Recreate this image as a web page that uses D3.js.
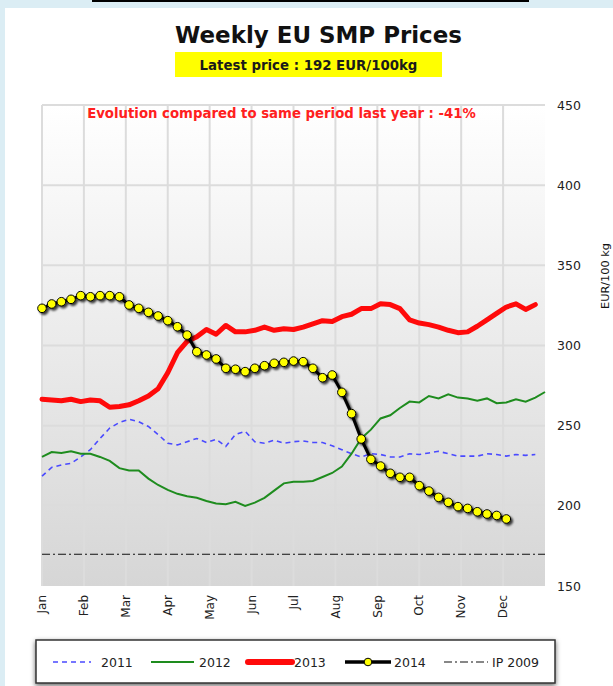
<!DOCTYPE html>
<html><head><meta charset="utf-8">
<script src="https://cdn.jsdelivr.net/npm/d3@7"></script>
<style>body{margin:0;padding:0;overflow:hidden;background:#dbedf4}svg{display:block}</style>
</head><body>
<svg id="c" width="613" height="686"></svg>
<script>
// ---------- data ----------
const months = ["Jan","Feb","Mar","Apr","May","Jun","Jul","Aug","Sep","Oct","Nov","Dec"];
const yTicks = [150,200,250,300,350,400,450];
const ipLevel = 169.8;
const s2011 = [218.5,224,225.5,226.5,230.5,235,242,248.5,252,254,252.5,249.5,244.5,239,238,240,242,239.5,241.5,237,244.5,246.5,240,239,241,239,240,240.5,239.5,239.5,237.5,235,232.5,230.5,232.5,232,230.5,230.5,232.5,232,233,234,232.5,231,231,231,232.5,232,231,232,231.5,232];
const s2012 = [230.5,233.5,233,234,232.5,232.5,230.5,228,223.5,222,222,217,213,210,207.5,206,205,203,201.5,201,202.5,200,202,205,209.5,214,215,215,215.5,218,220.5,224.5,232.5,242,247.5,254.5,256.5,261,265,264.5,268.5,267,269.5,267.5,267,265.5,267,264,264.5,266.5,265,267.5,271];
const s2013 = [266.5,266,265.5,266.5,265,266,265.5,261.5,262,263,265.5,268.5,273,283,295.5,302.5,305.5,310,307,312.5,308.5,308.5,309.5,311.5,309.5,310.5,310,311.5,313.5,315.5,315,318,319.5,323,323,326,325.5,323,316,314,313,311.5,309.5,308,308.5,312,316,320,324,326,322.5,325.5];
const s2014 = [323.2,325.9,327.3,328.8,331.1,330.4,331.1,331.1,330.4,325.3,323.2,320.7,318.4,315.5,311.7,306.5,296.1,294.1,291.6,285.8,285.2,283.7,285.8,287.4,288.9,289.5,290.3,289.9,285.8,279.9,281.6,270.8,257.5,241.7,229,224.8,220.3,217.8,217.8,212.6,209.2,205.3,202.2,199.5,198.4,196.3,194.9,194,191.8];
const seriesNames = ["2011","2012","2013","2014","IP 2009"];

// ---------- layout ----------
const svg = d3.select("#c");
const L = 42, R = 545, T = 105, B = 586;
const x = d3.scaleLinear().domain([0,52]).range([L,R]);
const y = d3.scaleLinear().domain([150,450]).range([B,T]);
const monthPos = i => x(i*52/12);

function fit(sel, w){
  const n = sel.node(); const len = n.getComputedTextLength();
  const fs = parseFloat(sel.attr("font-size"));
  if(len>0) sel.attr("font-size", (fs*w/len).toFixed(2));
  return sel;
}

const defs = svg.append("defs");
const g1 = defs.append("linearGradient").attr("id","bg").attr("x1",0).attr("y1",0).attr("x2",0).attr("y2",1);
g1.append("stop").attr("offset","0%").attr("stop-color","#ffffff");
g1.append("stop").attr("offset","100%").attr("stop-color","#d6d6d6");
const f1 = defs.append("filter").attr("id","sh").attr("x","-20%").attr("y","-20%").attr("width","140%").attr("height","140%");
f1.append("feDropShadow").attr("dx",2).attr("dy",2).attr("stdDeviation",1.2).attr("flood-color","#000").attr("flood-opacity",0.75);
const f2 = defs.append("filter").attr("id","lsh").attr("x","-10%").attr("y","-30%").attr("width","120%").attr("height","170%");
f2.append("feDropShadow").attr("dx",0).attr("dy",2).attr("stdDeviation",2.5).attr("flood-color","#000").attr("flood-opacity",0.6);

// page
svg.append("rect").attr("width",613).attr("height",686).attr("fill","#dbedf4");
svg.append("rect").attr("x",5).attr("y",8).attr("width",608).attr("height",678).attr("fill","#ffffff");
svg.append("line").attr("x1",92).attr("x2",529).attr("y1",1).attr("y2",1).attr("stroke","#000").attr("stroke-width",2);

// titles
const title = svg.append("text").attr("x",318.5).attr("y",43).attr("text-anchor","middle")
  .attr("font-family","DejaVu Sans").attr("font-weight","bold").attr("font-size",22).attr("fill","#111")
  .text("Weekly EU SMP Prices");
fit(title,287);
svg.append("rect").attr("x",175).attr("y",52).attr("width",267).attr("height",25).attr("fill","#ffff00");
const latest = svg.append("text").attr("x",308.5).attr("y",70).attr("text-anchor","middle")
  .attr("font-family","DejaVu Sans").attr("font-weight","bold").attr("font-size",13).attr("fill","#1a1a1a")
  .text("Latest price : " + s2014[s2014.length-1].toFixed(0) + " EUR/100kg");
fit(latest,218);

// plot background + grid
svg.append("rect").attr("x",L).attr("y",T).attr("width",R-L).attr("height",B-T).attr("fill","url(#bg)");
const grid = svg.append("g").attr("stroke","#dcdcdc").attr("stroke-width",2);
grid.selectAll("line.h").data(yTicks.filter(v=>v>150)).enter().append("line")
  .attr("x1",L).attr("x2",R).attr("y1",d=>y(d)).attr("y2",d=>y(d));
grid.selectAll("line.v").data(months).enter().append("line")
  .attr("x1",(d,i)=>monthPos(i)).attr("x2",(d,i)=>monthPos(i)).attr("y1",T).attr("y2",B);

// y axis (right)
const yAxis = d3.axisRight(y).tickValues(yTicks).tickSize(0).tickPadding(12);
const ya = svg.append("g").attr("transform",`translate(${R},0)`).call(yAxis);
ya.select(".domain").remove();
ya.selectAll("text").attr("font-family","DejaVu Sans").attr("font-size",12.5).attr("fill","#222");
const yt = svg.append("text").attr("transform","translate(609,276) rotate(-90)").attr("text-anchor","middle")
  .attr("font-family","DejaVu Sans").attr("font-size",11).attr("fill","#111").text("EUR/100 kg");
fit(yt,66);

// x axis labels (rotated)
const xa = svg.append("g");
xa.selectAll("text").data(months).enter().append("text")
  .attr("transform",(d,i)=>`translate(${monthPos(i)},595) rotate(-90)`)
  .attr("text-anchor","end").attr("dy","0.35em")
  .attr("font-family","DejaVu Sans").attr("font-size",12).attr("fill","#222").text(d=>d);

// evolution text
const evo = svg.append("text").attr("x",281.5).attr("y",118).attr("text-anchor","middle")
  .attr("font-family","DejaVu Sans").attr("font-weight","bold").attr("font-size",13).attr("fill","#ff2020")
  .text("Evolution compared to same period last year : -41%");
fit(evo,389);

// series
const line = d3.line().x((d,i)=>x(i)).y(d=>y(d));
svg.append("line").attr("x1",L).attr("x2",R).attr("y1",y(ipLevel)).attr("y2",y(ipLevel))
  .attr("stroke","#111").attr("stroke-width",1.2).attr("stroke-dasharray","8,3,2,3");
svg.append("path").datum(s2011).attr("d",line).attr("fill","none").attr("stroke","#4a4aff")
  .attr("stroke-width",1.6).attr("stroke-dasharray","5,4");
svg.append("path").datum(s2012).attr("d",line).attr("fill","none").attr("stroke","#1e8c1e")
  .attr("stroke-width",2);
svg.append("path").datum(s2013).attr("d",line).attr("fill","none").attr("stroke","#ff0a0a")
  .attr("stroke-width",5).attr("stroke-linejoin","round").attr("stroke-linecap","round");
const g14 = svg.append("g").attr("filter","url(#sh)");
g14.append("path").datum(s2014).attr("d",line).attr("fill","none").attr("stroke","#000").attr("stroke-width",3);
g14.selectAll("circle").data(s2014).enter().append("circle")
  .attr("cx",(d,i)=>x(i)).attr("cy",d=>y(d)).attr("r",4.3)
  .attr("fill","#ffff00").attr("stroke","#000").attr("stroke-width",1);

// legend
const lg = svg.append("g");
lg.append("rect").attr("x",36).attr("y",640).attr("width",519).attr("height",43)
  .attr("fill","#fff").attr("stroke","#333").attr("stroke-width",1.5).attr("filter","url(#lsh)");
const ly = 662;
const items = [
  {x1:53,x2:91,tx:101,stroke:"#4a4aff",w:1.6,dash:"5,4"},
  {x1:151,x2:194,tx:199,stroke:"#1e8c1e",w:2,dash:null},
  {x1:248,x2:292,tx:294,stroke:"#ff0a0a",w:6,dash:null,cap:"round"},
  {x1:345,x2:391,tx:394,stroke:"#000",w:3.5,dash:null,dot:true},
  {x1:444,x2:488,tx:492,stroke:"#111",w:1.2,dash:"8,3,2,3"}
];
items.forEach((it,k)=>{
  const l = lg.append("line").attr("x1",it.x1).attr("x2",it.x2).attr("y1",ly).attr("y2",ly)
    .attr("stroke",it.stroke).attr("stroke-width",it.w);
  if(it.dash) l.attr("stroke-dasharray",it.dash);
  if(it.cap) l.attr("stroke-linecap",it.cap);
  if(it.dot) lg.append("circle").attr("cx",(it.x1+it.x2)/2).attr("cy",ly).attr("r",3.8)
    .attr("fill","#ffff00").attr("stroke","#000").attr("stroke-width",1);
  lg.append("text").attr("x",it.tx).attr("y",ly+4.5).attr("font-family","DejaVu Sans")
    .attr("font-size",12.5).attr("fill","#222").text(seriesNames[k]);
});
</script>
</body></html>
